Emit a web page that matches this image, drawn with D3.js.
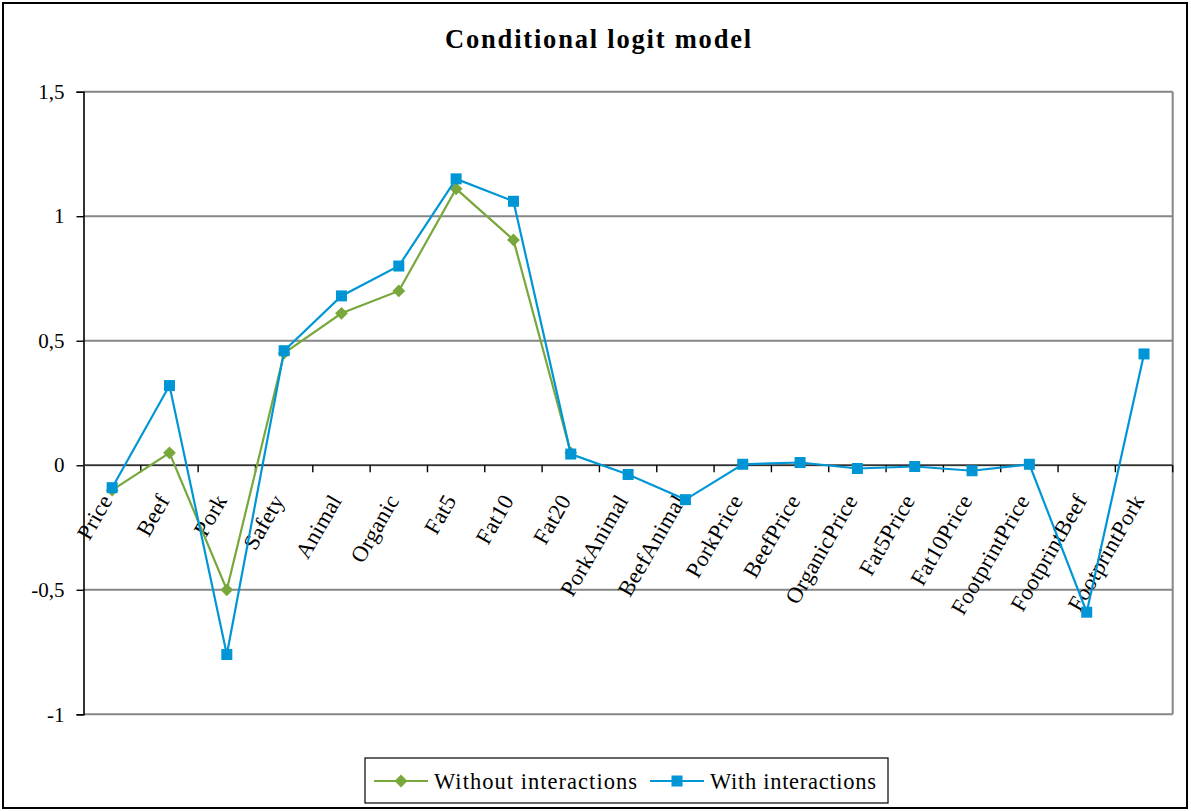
<!DOCTYPE html>
<html>
<head>
<meta charset="utf-8">
<script src="https://cdn.jsdelivr.net/npm/d3@7"></script>
<style>
  html, body { margin: 0; padding: 0; background: #fff; }
  svg { display: block; }
  text { font-family: "Liberation Serif", "Times New Roman", serif; fill: #000; }
</style>
</head>
<body>
<svg id="chart" width="1191" height="811"></svg>
<script>
// Coefficients of the conditional logit model, by attribute
const categories = [
  "Price", "Beef", "Pork", "Safety", "Animal", "Organic", "Fat5", "Fat10", "Fat20",
  "PorkAnimal", "BeefAnimal", "PorkPrice", "BeefPrice", "OrganicPrice", "Fat5Price",
  "Fat10Price", "FootprintPrice", "FootprintBeef", "FootprintPork"
];
// Main-effects model only has the first nine attributes
const withoutInteractions = [
  -0.10, 0.05, -0.50, 0.45, 0.61, 0.70, 1.11, 0.905, 0.05,
  null, null, null, null, null, null, null, null, null, null
];
const withInteractions = [
  -0.09, 0.32, -0.76, 0.46, 0.68, 0.80, 1.15, 1.06, 0.045,
  -0.037, -0.138, 0.004, 0.011, -0.013, -0.005, -0.022, 0.004, -0.59, 0.447
];
const yTicks = [-1, -0.5, 0, 0.5, 1, 1.5];
const seriesNames = ["Without interactions", "With interactions"];
const title = "Conditional logit model";

const GREEN = "#78a73b";
const BLUE = "#0096d6";
const GRID = "#868686";

const svg = d3.select("#chart");

// Outer chart frame
svg.append("rect")
  .attr("x", 3).attr("y", 3).attr("width", 1184).attr("height", 805)
  .attr("fill", "#fff").attr("stroke", "#000").attr("stroke-width", 2);

const plot = { left: 83.5, right: 1172.7, top: 91.7, bottom: 714.3 };

const x = d3.scaleBand().domain(categories).range([plot.left, plot.right]).padding(0);
const y = d3.scaleLinear().domain([-1, 1.5]).range([plot.bottom, plot.top]);

// Horizontal gridlines
svg.append("g").selectAll("line").data(yTicks).join("line")
  .attr("x1", plot.left).attr("x2", plot.right)
  .attr("y1", d => y(d)).attr("y2", d => y(d))
  .attr("stroke", GRID).attr("stroke-width", 2);

// Right edge of the plot area
svg.append("line")
  .attr("x1", plot.right).attr("x2", plot.right)
  .attr("y1", plot.top).attr("y2", plot.bottom)
  .attr("stroke", GRID).attr("stroke-width", 2);

// Y axis
const yAxis = svg.append("g")
  .attr("transform", `translate(${plot.left},0)`)
  .call(d3.axisLeft(y).tickValues(yTicks).tickSize(7).tickPadding(12)
    .tickFormat(d => String(d).replace(".", ",")));
yAxis.select(".domain").attr("stroke", "#000").attr("stroke-width", 1.6);
yAxis.selectAll(".tick line").attr("stroke", "#000").attr("stroke-width", 1.4);
yAxis.selectAll(".tick text")
  .attr("font-family", "Liberation Serif, serif")
  .attr("font-size", 21).attr("fill", "#000");

// Category axis along zero, with ticks at category boundaries
const zeroY = y(0);
svg.append("line")
  .attr("x1", plot.left).attr("x2", plot.right)
  .attr("y1", zeroY).attr("y2", zeroY)
  .attr("stroke", "#333").attr("stroke-width", 1.6);
const bounds = categories.map(c => x(c) + x.bandwidth());
svg.append("g").selectAll("line").data(bounds).join("line")
  .attr("x1", d => d).attr("x2", d => d)
  .attr("y1", zeroY).attr("y2", zeroY + 7)
  .attr("stroke", "#000").attr("stroke-width", 1.4);

// Rotated category labels
svg.append("g").selectAll("text").data(categories).join("text")
  .attr("transform", d => `translate(${x(d) + x.bandwidth() / 2 + 1},${zeroY + 35}) rotate(-60)`)
  .attr("text-anchor", "end")
  .attr("font-size", 22.5)
  .attr("letter-spacing", 0.3)
  .text(d => d);

// Series lines and markers
const cx = (d, i) => x(categories[i]) + x.bandwidth() / 2;
const line = d3.line()
  .defined(d => d !== null)
  .x((d, i) => cx(d, i))
  .y(d => y(d));

svg.append("path").datum(withoutInteractions)
  .attr("d", line).attr("fill", "none")
  .attr("stroke", GREEN).attr("stroke-width", 2.2);

const greenPts = withoutInteractions.map((v, i) => ({ v, i })).filter(d => d.v !== null);
const diamond = d3.symbol().type(d3.symbolSquare).size(82);
svg.append("g").selectAll("path").data(greenPts).join("path")
  .attr("d", diamond)
  .attr("transform", d => `translate(${cx(d.v, d.i)},${y(d.v)}) rotate(45)`)
  .attr("fill", GREEN);

svg.append("path").datum(withInteractions)
  .attr("d", line).attr("fill", "none")
  .attr("stroke", BLUE).attr("stroke-width", 2.2);

svg.append("g").selectAll("rect").data(withInteractions).join("rect")
  .attr("x", (d, i) => cx(d, i) - 5.5).attr("y", d => y(d) - 5.5)
  .attr("width", 11).attr("height", 11)
  .attr("fill", BLUE);

// Stretch text to a given width with letter spacing
function fitWidth(sel, width) {
  const node = sel.node();
  const natural = node.getComputedTextLength();
  const n = sel.text().length;
  if (n > 1) sel.attr("letter-spacing", (width - natural) / (n - 1));
}

// Title
const titleText = svg.append("text")
  .attr("x", 599).attr("y", 48)
  .attr("text-anchor", "middle")
  .attr("font-size", 26.5).attr("font-weight", "bold")
  .text(title);
fitWidth(titleText, 306);

// Legend
const legend = svg.append("g");
legend.append("rect")
  .attr("x", 365).attr("y", 758).attr("width", 523).attr("height", 45)
  .attr("fill", "#fff").attr("stroke", "#000").attr("stroke-width", 1.2);

const legendItems = [
  { name: seriesNames[0], color: GREEN, x0: 374, tx: 434, w: 203, marker: "diamond" },
  { name: seriesNames[1], color: BLUE, x0: 650, tx: 710, w: 166, marker: "square" }
];
legendItems.forEach(item => {
  const ly = 781;
  legend.append("line")
    .attr("x1", item.x0).attr("x2", item.x0 + 54)
    .attr("y1", ly).attr("y2", ly)
    .attr("stroke", item.color).attr("stroke-width", 2.2);
  if (item.marker === "diamond") {
    legend.append("path").attr("d", diamond)
      .attr("transform", `translate(${item.x0 + 27},${ly}) rotate(45)`)
      .attr("fill", item.color);
  } else {
    legend.append("rect")
      .attr("x", item.x0 + 27 - 5.5).attr("y", ly - 5.5)
      .attr("width", 11).attr("height", 11).attr("fill", item.color);
  }
  const t = legend.append("text")
    .attr("x", item.tx).attr("y", ly + 7.5)
    .attr("font-size", 22.5)
    .text(item.name);
  fitWidth(t, item.w);
});
</script>
</body>
</html>
